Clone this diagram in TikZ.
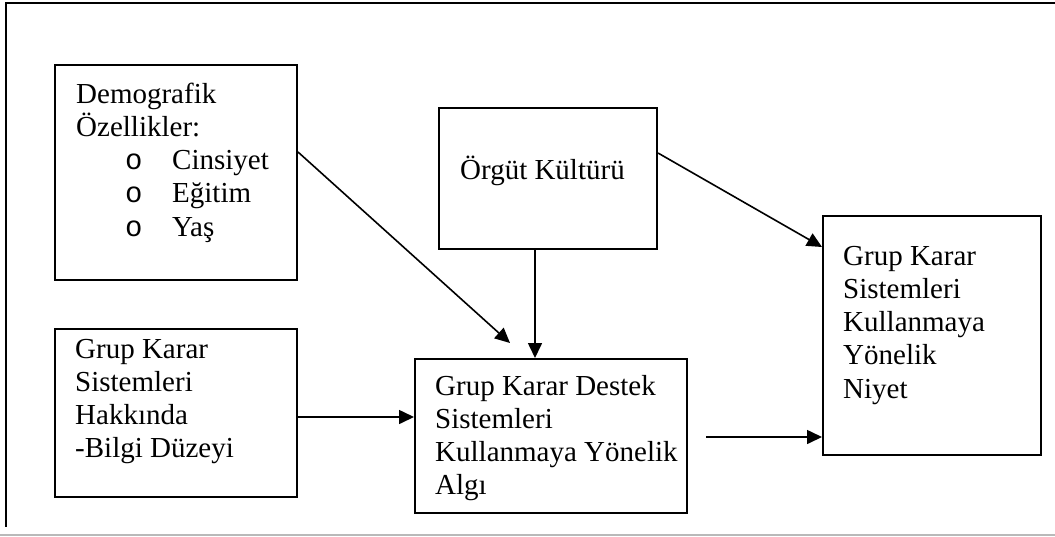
\documentclass[tikz,border=0pt]{standalone}
\usepackage{fontspec}
\setmainfont{Liberation Serif}
\newfontfamily\bulletfont{Liberation Mono}
\usetikzlibrary{arrows.meta,calc}
\begin{document}
\begin{tikzpicture}[x=1pt,y=-1pt,
  box/.style={draw,line width=2pt,inner sep=0pt,anchor=north west},
  label/.style={anchor=base west,inner sep=0pt,font=\fontsize{29}{33.3}\selectfont},
  link/.style={line width=1.6pt,-{Triangle[length=15pt,width=14pt]}}]
\useasboundingbox (0,0) rectangle (1055,536);
% page frame
\draw[line width=2pt] (1056,3) -- (6,3) -- (6,527);
\draw[gray!55,line width=1.5pt] (0,535) -- (1055,535);
\newcommand\bul{\makebox[47pt][l]{\bulletfont o}}
% boxes
\node[box,minimum width=242pt,minimum height=215pt] (demo) at (54,64) {};
\node[box,minimum width=218pt,minimum height=141pt] (orgut) at (438,107) {};
\node[box,minimum width=218pt,minimum height=239pt] (niyet) at (822,215) {};
\node[box,minimum width=242pt,minimum height=168pt] (bilgi) at (54,328) {};
\node[box,minimum width=272pt,minimum height=154pt] (algi) at (414,358) {};
% texts
\node[label] (tdemo) at (76,103) {\parbox[t]{215pt}{Demografik\\Özellikler:\\
  \hspace*{49pt}\bul Cinsiyet\\\hspace*{49pt}\bul Eğitim\\\hspace*{49pt}\bul Yaş}};
\node[label] (torgut) at (460,179) {Örgüt Kültürü};
\node[label] (tniyet) at (843,265) {\parbox[t]{190pt}{Grup Karar\\Sistemleri\\Kullanmaya\\Yönelik\\Niyet}};
\node[label] (tbilgi) at (75,358) {\parbox[t]{215pt}{Grup Karar\\Sistemleri\\Hakkında\\-Bilgi Düzeyi}};
\node[label] (talgi) at (435,395) {\parbox[t]{250pt}{Grup Karar Destek\\Sistemleri\\Kullanmaya Yönelik\\Algı}};
% connectors
\coordinate (demoTip) at (510,343);
\coordinate (algiOut) at (706,437);
\draw[link] ($(demo.north east)+(0,88)$) -- (demoTip);
\draw[link] ($(orgut.south west)+(97,0)$) -- ($(algi.north west)+(121,0)$);
\draw[link] ($(orgut.north east)+(0,46)$) -- ($(niyet.north west)+(0,32)$);
\draw[link] ($(bilgi.north east)+(0,89)$) -- ($(algi.north west)+(0,59)$);
\draw[link] (algiOut) -- (niyet.west |- algiOut);
\end{tikzpicture}
\end{document}
